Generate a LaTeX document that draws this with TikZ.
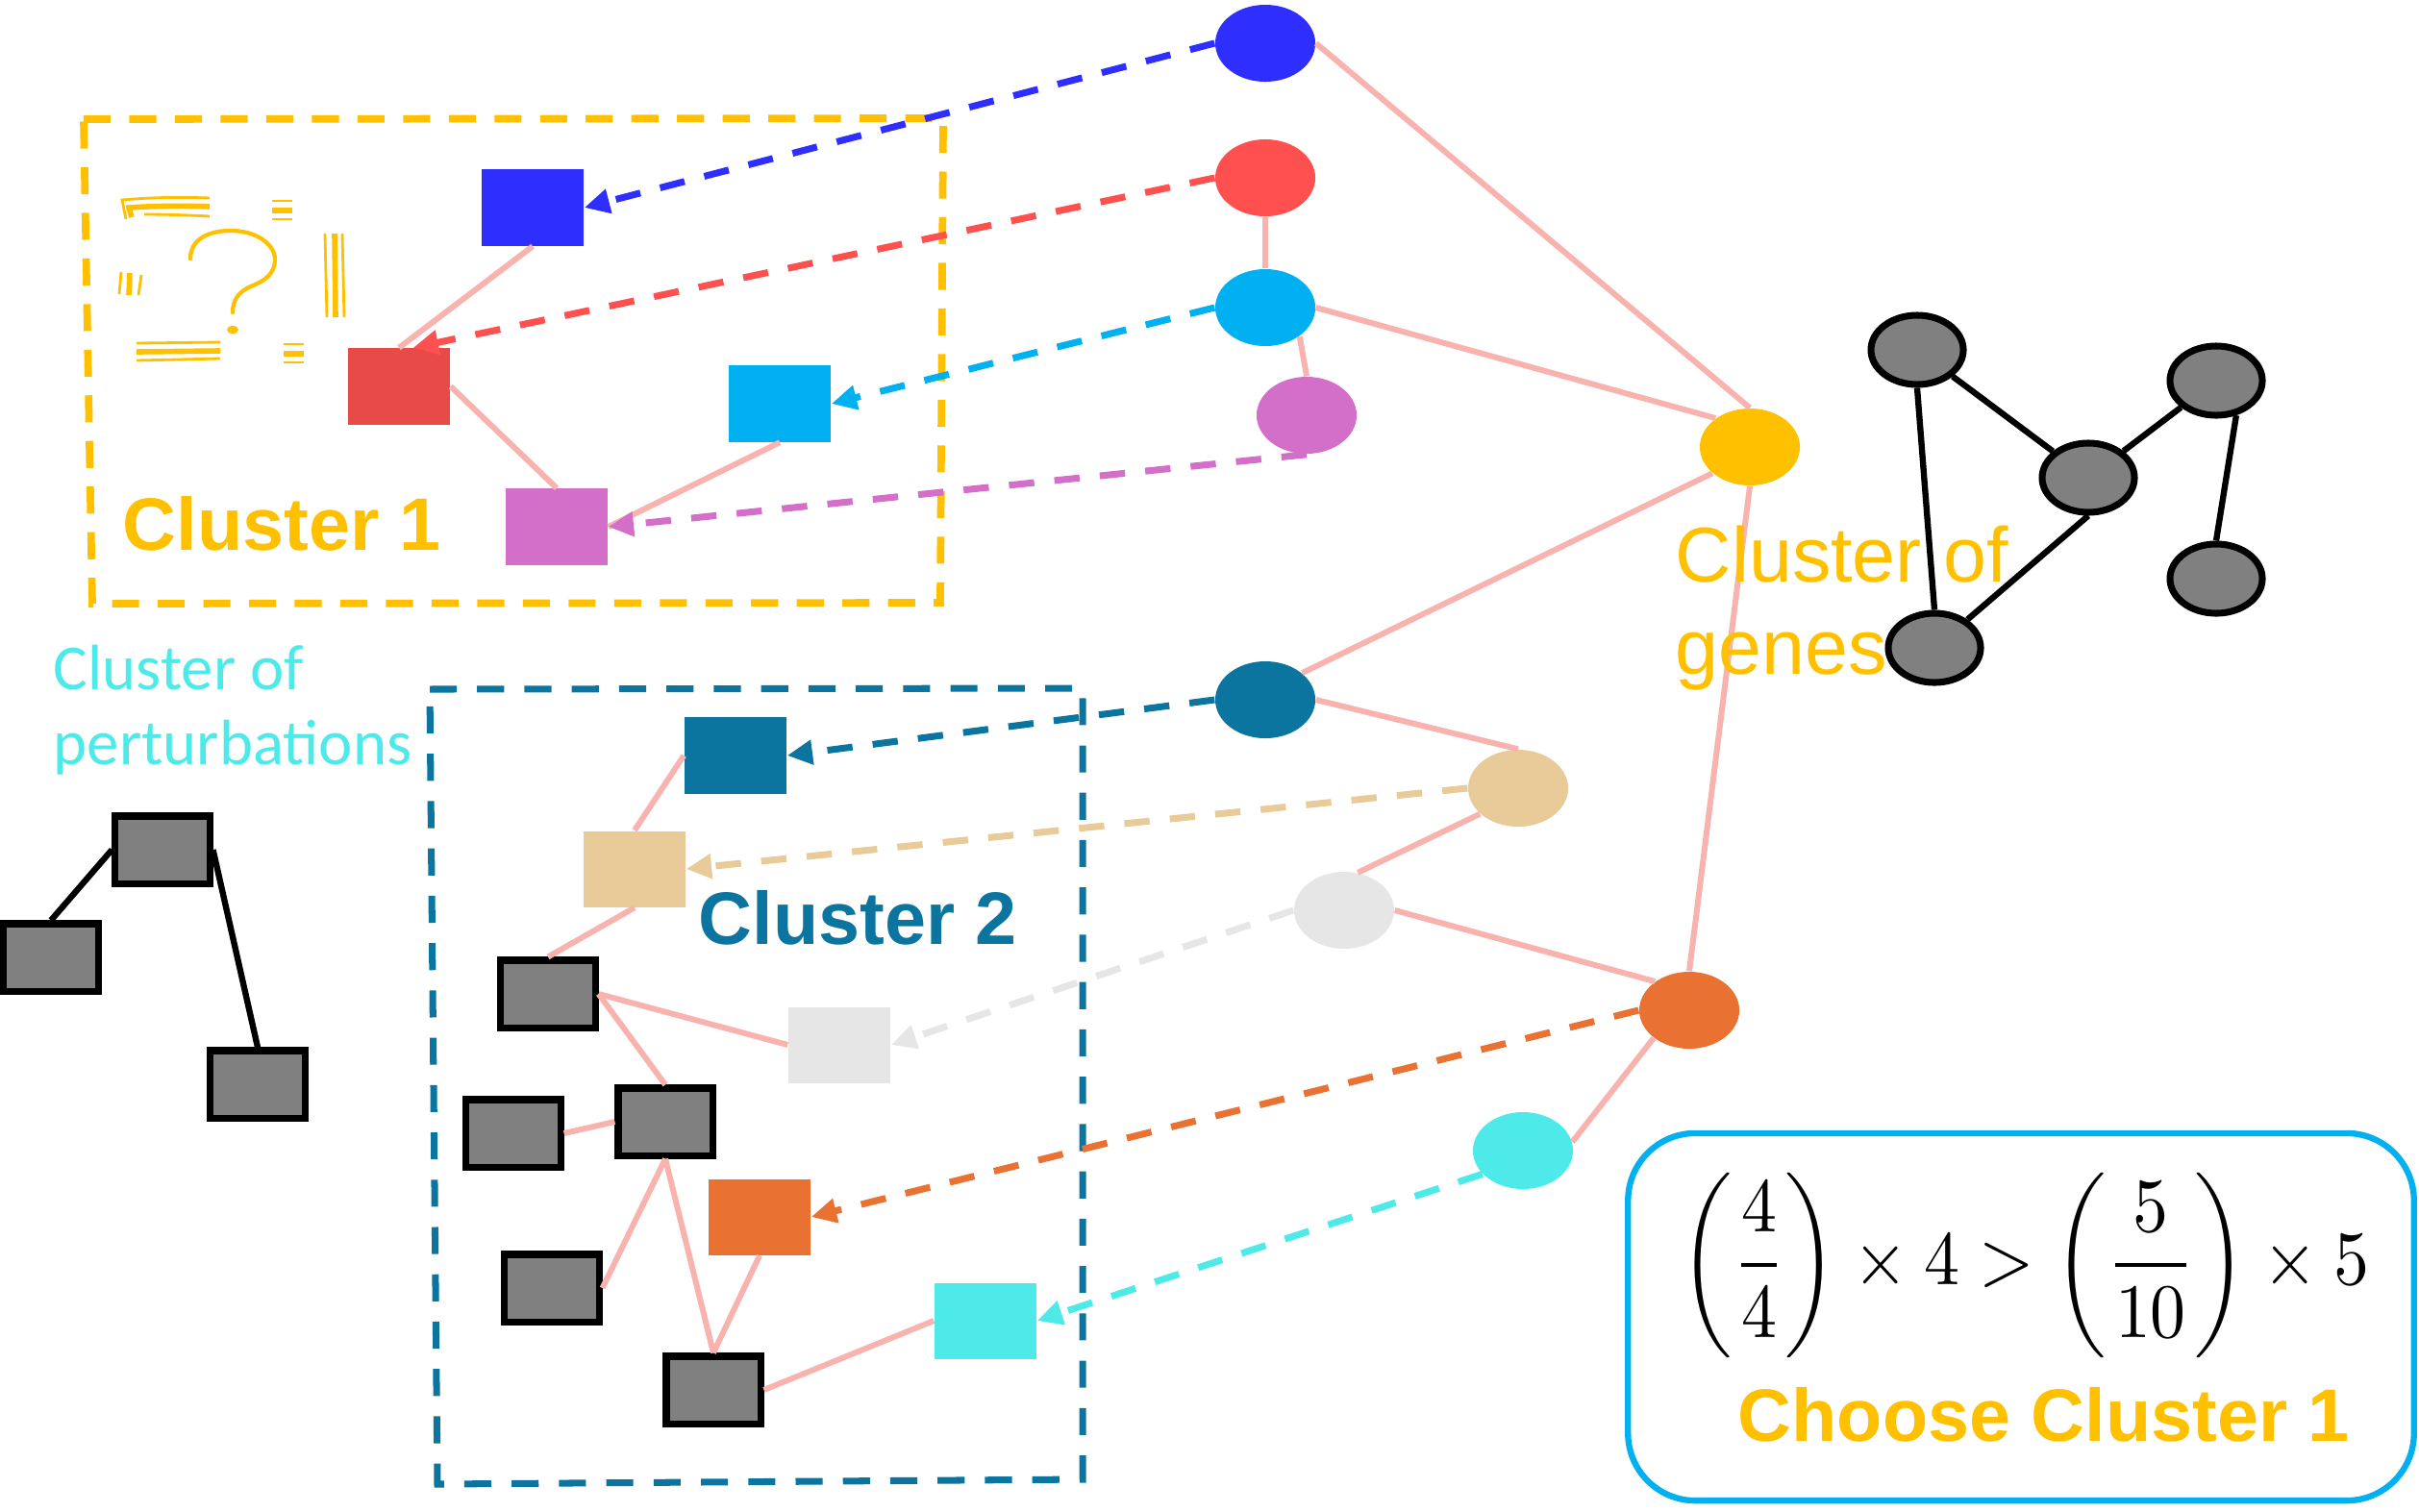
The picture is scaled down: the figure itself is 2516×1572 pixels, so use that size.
\documentclass[tikz,border=0pt]{standalone}
\usepackage{fontspec}
\usepackage{amsmath}
\usepackage{graphicx}
\setmainfont{Liberation Sans}
\newfontfamily\pertfont{Carlito}
\usetikzlibrary{arrows.meta, positioning, shapes.geometric}

\definecolor{cblue}{HTML}{2E2EFF}
\definecolor{cred}{HTML}{FF5050}
\definecolor{cdred}{HTML}{E84A48}
\definecolor{csky}{HTML}{00B0F0}
\definecolor{corchid}{HTML}{D46FC9}
\definecolor{cgold}{HTML}{FFC000}
\definecolor{cteal}{HTML}{0B75A0}
\definecolor{ctan}{HTML}{E8CB98}
\definecolor{clight}{HTML}{E6E6E6}
\definecolor{corange}{HTML}{E97132}
\definecolor{ccyan}{HTML}{4EEAEA}
\definecolor{cpink}{HTML}{F8B3AE}
\definecolor{cgray}{HTML}{808080}

\begin{document}
\begin{tikzpicture}[x=0.01cm, y=-0.01cm, >={Triangle[length=7.5pt,width=7pt]},
  gene/.style={ellipse, inner sep=0pt, minimum width=1.04cm, minimum height=0.80cm, fill=#1},
  pert/.style={rectangle, inner sep=0pt, minimum width=1.06cm, minimum height=0.79cm, fill=#1},
  ggene/.style={ellipse, draw=black, line width=2pt, fill=cgray, inner sep=0pt, minimum width=0.96cm, minimum height=0.72cm},
  gpert/.style={rectangle, draw=black, line width=2pt, fill=cgray, inner sep=0pt, minimum width=0.98cm, minimum height=0.70cm},
  link/.style={cpink, line width=1.7pt},
  blink/.style={black, line width=1.8pt},
  map/.style={->, #1, line width=2pt, dash pattern=on 7.5pt off 6pt},
  doodle/.style={cgold, line width=#1},
  biglab/.style={anchor=base west, inner sep=0pt, font=\bfseries\fontsize{22}{26}\selectfont}]
  \useasboundingbox (0,0) rectangle (2516,1572);

  % dashed cluster frames
  \draw[cgold, line width=2.2pt, dash pattern=on 8pt off 5.5pt] (87,124) -- (981,123) -- (978,627) -- (96,628) -- cycle;
  \draw[cteal, line width=2pt, dash pattern=on 8pt off 6pt] (447,717) -- (1126,716) -- (1126,1539) -- (455,1544) -- cycle;

  % genes
  \node[gene=cblue] (gB) at (1316,45) {};
  \node[gene=cred] (gR) at (1316,185) {};
  \node[gene=csky] (gS) at (1316,320) {};
  \node[gene=corchid] (gM) at (1359,432) {};
  \node[gene=cgold] (gY) at (1820,465) {};
  \node[gene=cteal] (gT) at (1316,728) {};
  \node[gene=ctan] (gK) at (1579,820) {};
  \node[gene=clight] (gL) at (1398,947) {};
  \node[gene=corange] (gO) at (1757,1051) {};
  \node[gene=ccyan] (gC) at (1584,1197) {};

  % perturbations, cluster 1
  \node[pert=cblue] (pB) at (554,216) {};
  \node[pert=cdred] (pR) at (415,402) {};
  \node[pert=csky] (pS) at (811,420) {};
  \node[pert=corchid] (pM) at (579,548) {};

  % perturbations, cluster 2
  \node[pert=cteal] (pT) at (765,786) {};
  \node[pert=ctan] (pK) at (660,904) {};
  \node[pert=clight] (pL) at (873,1087) {};
  \node[pert=corange] (pO) at (790,1266) {};
  \node[pert=ccyan] (pC) at (1025,1374) {};
  \node[gpert] (s1) at (570,1034) {};
  \node[gpert] (s2) at (692,1167) {};
  \node[gpert] (s3) at (534,1179) {};
  \node[gpert] (s4) at (574,1340) {};
  \node[gpert] (s5) at (742,1446) {};

  % left perturbation network
  \node[gpert] (q1) at (169,884) {};
  \node[gpert] (q2) at (53,996) {};
  \node[gpert] (q3) at (268,1128) {};
  \draw[blink] (q1.west) -- (q2.north);
  \draw[blink] (q1.east) -- (q3.north);

  % right gene network
  \node[ggene] (n1) at (1994,364) {};
  \node[ggene] (n2) at (2305,396) {};
  \node[ggene] (n3) at (2172,497) {};
  \node[ggene] (n4) at (2305,602) {};
  \node[ggene] (n5) at (2012,674) {};
  \draw[blink] (n1) -- (n3);
  \draw[blink] (n1.south) -- (n5.north);
  \draw[blink] (n3) -- (n2);
  \draw[blink] (n3.south) -- (n5);
  \draw[blink] (n2.-60) -- (n4.north);

  % gene links
  \draw[link] (gB.east) -- (gY.north);
  \draw[link] (gR.south) -- (gS.north);
  \draw[link] (gS.-40) -- (gM.north);
  \draw[link] (gS.east) -- (gY.140);
  \draw[link] (gY.215) -- (gT.36);
  \draw[link] (gY.south) -- (gO.north);
  \draw[link] (gT.east) -- (gK.north);
  \draw[link] (gK.214) -- (gL.70);
  \draw[link] (gL.east) -- (gO.140);
  \draw[link] (gO.218) -- (gC.10);

  % perturbation links
  \draw[link] (pB.south) -- (pR.north);
  \draw[link] (pR.east) -- (pM.north);
  \draw[link] (pS.south) -- (pM.east);
  \draw[link] (pT.west) -- (pK.north);
  \draw[link] (pK.south) -- (s1.north);
  \draw[link] (s1.east) -- (pL.west);
  \draw[link] (s1.east) -- (s2.north);
  \draw[link] (s3.east) -- (s2.west);
  \draw[link] (s2.south) -- (s4.east);
  \draw[link] (s2.south) -- (s5.north);
  \draw[link] (pO.south) -- (s5.north);
  \draw[link] (s5.east) -- (pC.west);

  % gene -> perturbation
  \draw[map=cblue] (gB.west) -- (pB.east);
  \draw[map=cred] (gR.west) -- (pR.70);
  \draw[map=csky] (gS.west) -- (pS.east);
  \draw[map=corchid] (gM.south) -- (pM.east);
  \draw[map=cteal] (gT.west) -- (pT.east);
  \draw[map=ctan] (gK.west) -- (pK.east);
  \draw[map=clight] (gL.west) -- (pL.east);
  \draw[map=corange] (gO.west) -- (pO.east);
  \draw[map=ccyan] (gC.210) -- (pC.east);

  % question mark doodle
  \draw[doodle=1.2pt, line cap=round] (198,269) .. controls (198,250) and (215,240) .. (240,240)
    .. controls (268,240) and (286,255) .. (286,270) .. controls (286,285) and (275,292) .. (263,297)
    .. controls (248,303) and (242,312) .. (242,325);
  \fill[cgold] (242,343) ellipse [x radius=6, y radius=4];
  \draw[doodle=0.8pt] (131,228) -- (127,208) .. controls (160,205) and (190,205) .. (218,206);
  \draw[doodle=1.6pt] (137,226) -- (134,216) .. controls (165,214) and (195,214) .. (218,215);
  \draw[doodle=0.8pt] (150,223) .. controls (175,223) and (200,224) .. (218,225);
  \draw[doodle=0.8pt] (283,209) -- (304,209);
  \draw[doodle=1.6pt] (283,219) -- (304,219);
  \draw[doodle=0.8pt] (283,228) -- (304,228);
  \draw[doodle=0.8pt] (126,283) -- (124,306);
  \draw[doodle=1.6pt] (135,284) -- (134,307);
  \draw[doodle=0.8pt] (147,286) -- (144,307);
  \draw[doodle=0.8pt] (338,243) -- (340,330);
  \draw[doodle=1.6pt] (348,243) -- (349,330);
  \draw[doodle=0.8pt] (356,243) -- (358,330);
  \draw[doodle=0.8pt] (142,357) -- (229,356);
  \draw[doodle=1.6pt] (142,366) -- (229,365);
  \draw[doodle=0.8pt] (142,375) -- (229,373);
  \draw[doodle=0.8pt] (295,358) -- (316,358);
  \draw[doodle=1.6pt] (295,368) -- (316,368);
  \draw[doodle=0.8pt] (295,377) -- (316,377);

  % labels
  \node[biglab, text=cgold] (c1lab) at (127,572) {Cluster 1};
  \node[biglab, text=cteal] (c2lab) at (726,982) {Cluster 2};
  \node[anchor=base west, inner sep=0pt, text=ccyan, font=\pertfont\fontsize{19}{22}\selectfont] (plab1) at (55,717) {Cluster of};
  \node[anchor=base west, inner sep=0pt, text=ccyan, font=\pertfont\fontsize{19}{22}\selectfont] (plab2) at (55,795) {perturbations};
  \node[anchor=base west, inner sep=0pt, text=cgold, font=\fontsize{23}{27}\selectfont] (glab1) at (1742,605) {Cluster of};
  \node[anchor=base west, inner sep=0pt, text=cgold, font=\fontsize{23}{27}\selectfont] (glab2) at (1742,701) {genes};

  % result box
  \node[draw=csky, line width=1.8pt, rounded corners=0.7cm, minimum width=8.17cm, minimum height=3.82cm] (res) at (2102,1370) {};
  \node (formula) at (2106,1316) {\scalebox{2.1}[2.28]{$\displaystyle\left(\frac{4}{4}\right)\times 4>\left(\frac{5}{10}\right)\times 5$}};
  \node[biglab, text=cgold] (choose) at (1807,1499) {Choose Cluster 1};
\end{tikzpicture}
\end{document}
